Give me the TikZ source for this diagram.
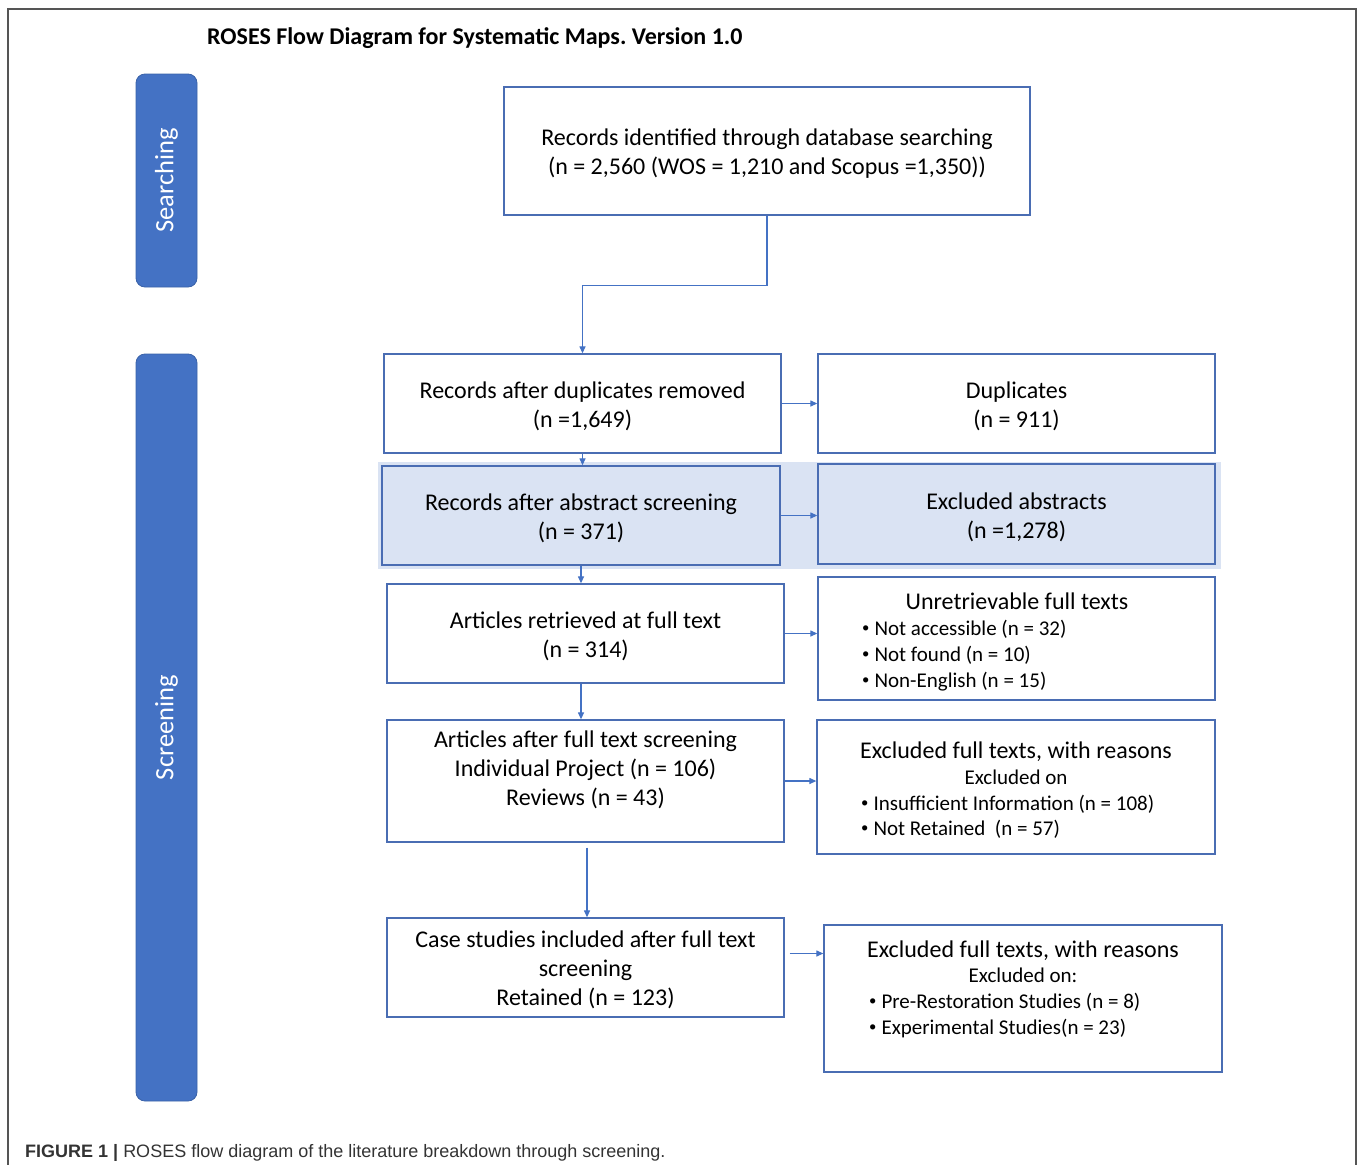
\documentclass[tikz,border=0pt]{standalone}
\usepackage{fontspec}
\setmainfont{Carlito}
\newfontfamily\capfont{Liberation Sans}
\usetikzlibrary{arrows.meta,calc}
\frenchspacing
\definecolor{bblue}{HTML}{4472C4}
\definecolor{bborder}{HTML}{4A6DB3}
\definecolor{lightb}{HTML}{DAE3F3}
\definecolor{barborder}{HTML}{3A62A8}
\definecolor{framegray}{HTML}{555555}
\definecolor{capgray}{HTML}{333333}
\newcommand{\bulletmark}{\raisebox{0.28ex}{\scalebox{0.7}{\textbullet}}\hspace{5pt}}
\begin{document}
\begin{tikzpicture}[x=1pt,y=-1pt,
  box/.style={draw=bborder, line width=1.3pt, inner sep=0pt, fill=white},
  txt/.style={font=\fontsize{24}{29}\selectfont, align=center, inner sep=0pt},
  ttl/.style={font=\fontsize{24}{29}\selectfont, inner sep=0pt, anchor=base},
  sml/.style={font=\fontsize{21}{26}\selectfont, inner sep=0pt, anchor=base},
  bul/.style={font=\fontsize{21}{26}\selectfont, inner sep=0pt, anchor=base west},
  bar/.style={fill=bblue, draw=barborder, line width=0.8pt, rounded corners=9pt,
    text=white, font=\fontsize{26.5}{30}\selectfont, rotate=90, inner sep=0pt},
  arr/.style={draw=bblue, line width=1.2pt, -{Triangle[length=7pt,width=6pt]}}]
\useasboundingbox (0,0) rectangle (1358,1165);
% frame
\draw[framegray, line width=2pt] (8,1166) -- (8,9) -- (1356,9) -- (1356,1166);
% title
\node[anchor=base west, inner sep=0pt, font=\fontsize{24}{29}\selectfont\bfseries] (title) at (207,44) {ROSES Flow Diagram for Systematic Maps. Version 1.0};
% side bars
\node[bar, minimum width=213, minimum height=61] (sbar) at (166.5,180.5) {Searching};
\node[bar, minimum width=747, minimum height=61] (scbar) at (166.5,727.5) {Screening};
% highlight band
\fill[lightb] (378,462) rectangle (1221,569);
% boxes
\node[box, minimum width=526, minimum height=128] (b1) at (767,151) {};
\node[box, minimum width=397, minimum height=99] (b2) at (582.5,403.5) {};
\node[box, minimum width=397, minimum height=99] (d2) at (1016.5,403.5) {};
\node[box, fill=lightb, minimum width=398, minimum height=99] (b3) at (581,515.5) {};
\node[box, fill=lightb, minimum width=397, minimum height=100] (d3) at (1016.5,514) {};
\node[box, minimum width=397, minimum height=99] (b4) at (585.5,633.5) {};
\node[box, minimum width=397, minimum height=123] (d4) at (1016.5,638.5) {};
\node[box, minimum width=397, minimum height=122] (b5) at (585.5,781) {};
\node[box, minimum width=398, minimum height=134] (d5) at (1016,787) {};
\node[box, minimum width=397, minimum height=99] (b6) at (585.5,967.5) {};
\node[box, minimum width=398, minimum height=147] (d6) at (1023,998.5) {};
% texts
\node[txt] (t1) at (767,154) {Records identified through database searching\\(n = 2,560 (WOS = 1,210 and Scopus =1,350))};
\node[txt] (t2) at (582.5,406.5) {Records after duplicates removed\\(n =1,649)};
\node[txt] (td2) at (1016.5,406.5) {Duplicates\\(n = 911)};
\node[txt] (t3) at (581,518) {Records after abstract screening\\(n = 371)};
\node[txt] (td3) at (1016.5,517) {Excluded abstracts\\(n =1,278)};
\node[txt] (t4) at (585.5,636.5) {Articles retrieved at full text\\(n = 314)};
\node[txt] (t5) at (585.5,770) {Articles after full text screening\\Individual Project (n = 106)\\Reviews (n = 43)};
\node[txt] (t6) at (585.5,970) {Case studies included after full text\\screening\\Retained (n = 123)};
% unretrievable
\node[ttl] (u0) at (1017,609) {Unretrievable full texts};
\node[bul] (u1) at (862,635) {\bulletmark Not accessible (n = 32)};
\node[bul] (u2) at (862,661) {\bulletmark Not found (n = 10)};
\node[bul] (u3) at (862,687) {\bulletmark Non-English (n = 15)};
% excluded full texts 1
\node[ttl] (e0) at (1016,758) {Excluded full texts, with reasons};
\node[sml] (e1) at (1016,784) {Excluded on};
\node[bul] (e2) at (861,810) {\bulletmark Insufficient Information (n = 108)};
\node[bul] (e3) at (861,835) {\bulletmark Not Retained\ \ (n = 57)};
% excluded full texts 2
\node[ttl] (f0) at (1023,957) {Excluded full texts, with reasons};
\node[sml] (f1) at (1023,982) {Excluded on:};
\node[bul] (f2) at (869,1008) {\bulletmark Pre-Restoration Studies (n = 8)};
\node[bul] (f3) at (869,1034) {\bulletmark Experimental Studies(n = 23)};
% connectors
\draw[arr] (b1.south) -- ++(0,70) -| (b2.north);
\draw[arr] (b2.east) -- (b2.east -| d2.west);
\draw[arr] (b2.south) -- (b2.south |- b3.north);
\draw[arr] (b3.east) -- (b3.east -| d3.west);
\draw[arr] (b3.south) -- (b3.south |- b4.north);
\draw[arr] (b4.east) -- (b4.east -| d4.west);
\draw[arr] (b3.south |- b4.south) -- (b3.south |- b5.north);
\draw[arr] (b5.east) -- (b5.east -| d5.west);
\draw[arr] ($(b5.south)+(1.5,5)$) -- ($(b6.north)+(1.5,0)$);
\coordinate (c6) at ($(b6.east)+(5,-14)$);
\draw[arr] (c6) -- (c6 -| d6.west);
% caption
\node[anchor=base west, inner sep=0pt, text=capgray, font=\capfont\fontsize{18}{21}\selectfont] (cap) at (25,1157) {\textbf{FIGURE 1 |} ROSES flow diagram of the literature breakdown through screening.};
\end{tikzpicture}
\end{document}
